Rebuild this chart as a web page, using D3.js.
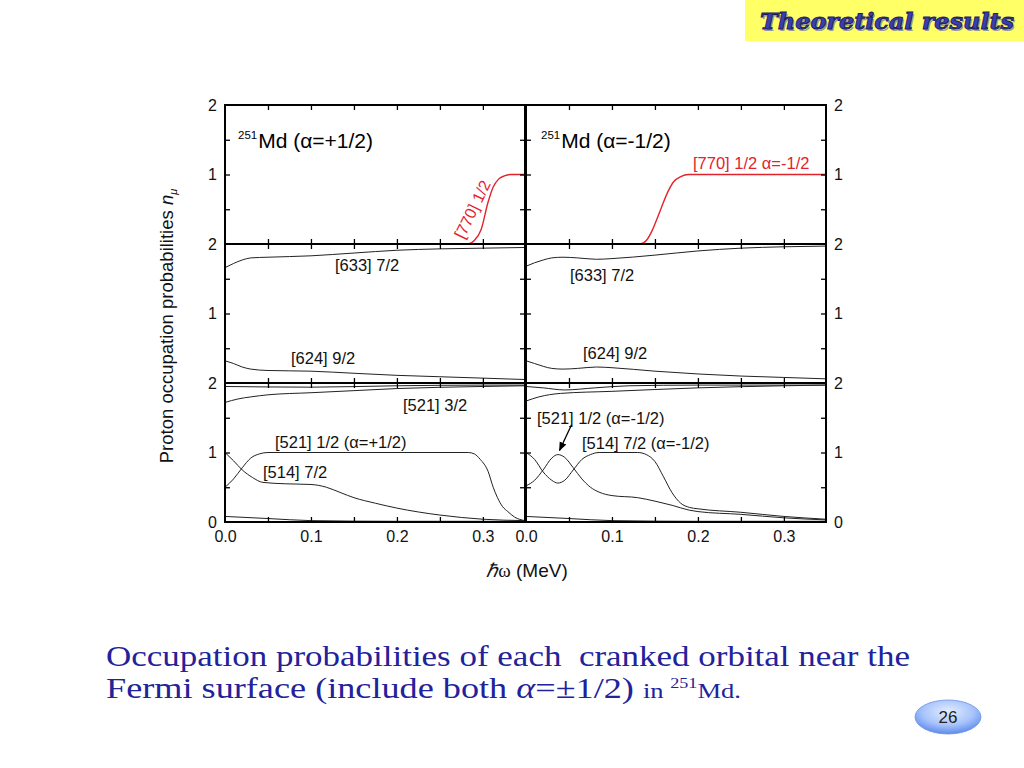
<!DOCTYPE html>
<html><head><meta charset="utf-8">
<script src="https://cdn.jsdelivr.net/npm/d3@7"></script>
<style>body{margin:0;background:#fff;} svg{display:block;}</style>
</head><body><svg id="c" width="1024" height="768"></svg>
<script>
// ---------------- data ----------------
const xTickLabels = [0, 0.1, 0.2, 0.3];
const xMinorTicks = [0.05, 0.1, 0.15, 0.2, 0.25, 0.3];
const yMinorTicks = [0.5, 1, 1.5];
const yLabelsRow = [[1, 2], [1, 2], [0, 1, 2]];
const xDomain = [0, 0.349];

// top row: [770]1/2
const w770p = [0, 0.283, 0.29, 0.298, 0.306, 0.312, 0.318, 0.325, 0.332, 0.349];
const n770p = [0, 0, 0.05, 0.21, 0.6, 0.82, 0.93, 0.98, 1, 1];
const w770m = [0, 0.133, 0.14, 0.147, 0.153, 0.158, 0.165, 0.172, 0.18, 0.189, 0.349];
const n770m = [0, 0, 0.05, 0.2, 0.38, 0.54, 0.75, 0.9, 0.97, 1, 1];

// middle row: [633]7/2 and [624]9/2
const w6L = [0, 0.01, 0.02, 0.03, 0.05, 0.1, 0.15, 0.2, 0.25, 0.3, 0.349];
const n633p = [1.66, 1.72, 1.77, 1.8, 1.81, 1.83, 1.87, 1.91, 1.93, 1.94, 1.95];
const n624p = [0.32, 0.28, 0.23, 0.2, 0.18, 0.17, 0.14, 0.11, 0.09, 0.07, 0.05];
const w6R = [0, 0.01, 0.02, 0.03, 0.043, 0.06, 0.082, 0.1, 0.15, 0.2, 0.25, 0.3, 0.349];
const n633m = [1.68, 1.73, 1.77, 1.8, 1.81, 1.8, 1.78, 1.79, 1.84, 1.9, 1.94, 1.96, 1.97];
const n624m = [0.32, 0.28, 0.24, 0.21, 0.2, 0.21, 0.23, 0.22, 0.17, 0.13, 0.1, 0.08, 0.06];

// bottom row, alpha = +1/2
const wTopA = [0, 0.1, 0.2, 0.3, 0.349];
const n521_32p = [1.95, 1.94, 1.96, 1.97, 1.97];
const wTopB = [0, 0.015, 0.03, 0.05, 0.1, 0.15, 0.2, 0.3, 0.349];
const nTopBp = [1.72, 1.77, 1.8, 1.83, 1.86, 1.89, 1.92, 1.95, 1.96];
const w521p = [0, 0.01, 0.02, 0.03, 0.04, 0.05, 0.283, 0.29, 0.297, 0.306, 0.312, 0.317, 0.323, 0.329, 0.337, 0.349];
const n521p = [0.5, 0.62, 0.78, 0.92, 0.98, 1, 1, 0.98, 0.9, 0.73, 0.5, 0.35, 0.22, 0.15, 0.07, 0.02];
const w514p = [0, 0.01, 0.02, 0.032, 0.044, 0.07, 0.1, 0.118, 0.135, 0.15, 0.175, 0.2, 0.25, 0.3, 0.349];
const n514p = [1, 0.88, 0.75, 0.64, 0.57, 0.55, 0.54, 0.5, 0.42, 0.35, 0.27, 0.2, 0.1, 0.04, 0.02];
const wLow = [0, 0.05, 0.1, 0.2, 0.349];
const nLowp = [0.08, 0.05, 0.02, 0.01, 0.01];

// bottom row, alpha = -1/2
const wTopAm = [0, 0.02, 0.045, 0.08, 0.12, 0.2, 0.349];
const nTopAm = [1.95, 1.93, 1.9, 1.93, 1.96, 1.97, 1.97];
const wTopBm = [0, 0.015, 0.04, 0.1, 0.2, 0.3, 0.349];
const nTopBm = [1.74, 1.8, 1.85, 1.88, 1.93, 1.96, 1.97];
const w521m = [0, 0.01, 0.02, 0.03, 0.037, 0.045, 0.055, 0.065, 0.075, 0.085, 0.1, 0.13, 0.15, 0.17, 0.19, 0.2, 0.25, 0.3, 0.349];
const n521m = [0.52, 0.6, 0.75, 0.92, 0.97, 0.93, 0.78, 0.62, 0.5, 0.43, 0.38, 0.35, 0.3, 0.24, 0.17, 0.15, 0.11, 0.06, 0.03];
const w514m = [0, 0.01, 0.02, 0.03, 0.037, 0.045, 0.055, 0.065, 0.075, 0.085, 0.13, 0.14, 0.15, 0.16, 0.17, 0.18, 0.19, 0.2, 0.25, 0.3, 0.349];
const n514m = [1, 0.9, 0.72, 0.6, 0.56, 0.6, 0.75, 0.9, 0.97, 1, 1, 0.97, 0.87, 0.65, 0.42, 0.27, 0.21, 0.19, 0.14, 0.08, 0.04];
const nLowm = [0.08, 0.05, 0.02, 0.01, 0.01];

// ---------------- layout ----------------
const RED = "#e3232b";
const svg = d3.select("#c");
const colRange = [[225, 525], [526, 826]];
const rowTop = [105, 244, 383];
const rowH = 139;
const xs = colRange.map(r => d3.scaleLinear().domain(xDomain).range(r));
const ys = rowTop.map(t => d3.scaleLinear().domain([0, 2]).range([t + rowH, t]));
const FONT = "'Liberation Sans', Arial, Helvetica, sans-serif";

const curves = [
  {c:0, r:0, w:w770p, n:n770p, color:RED},
  {c:1, r:0, w:w770m, n:n770m, color:RED},
  {c:0, r:1, w:w6L, n:n633p}, {c:0, r:1, w:w6L, n:n624p},
  {c:1, r:1, w:w6R, n:n633m}, {c:1, r:1, w:w6R, n:n624m},
  {c:0, r:2, w:wTopA, n:n521_32p}, {c:0, r:2, w:wTopB, n:nTopBp},
  {c:0, r:2, w:w521p, n:n521p}, {c:0, r:2, w:w514p, n:n514p}, {c:0, r:2, w:wLow, n:nLowp},
  {c:1, r:2, w:wTopAm, n:nTopAm}, {c:1, r:2, w:wTopBm, n:nTopBm},
  {c:1, r:2, w:w521m, n:n521m}, {c:1, r:2, w:w514m, n:n514m}, {c:1, r:2, w:wLow, n:nLowm}
];

// clip paths
const defs = svg.append("defs");
for (let c = 0; c < 2; c++) for (let r = 0; r < 3; r++) {
  defs.append("clipPath").attr("id", `clip${c}${r}`).append("rect")
    .attr("x", colRange[c][0]).attr("y", rowTop[r])
    .attr("width", colRange[c][1] - colRange[c][0]).attr("height", rowH);
}
const mk = defs.append("marker").attr("id", "arr").attr("viewBox", "0 0 10 10")
  .attr("refX", 9).attr("refY", 5).attr("markerWidth", 7).attr("markerHeight", 7).attr("orient", "auto");
mk.append("path").attr("d", "M0,1 L10,5 L0,9 Z").attr("fill", "#000");

// curves
curves.forEach(cv => {
  const pts = cv.w.map((w, i) => [w, cv.n[i]]);
  const line = d3.line().x(d => xs[cv.c](d[0])).y(d => ys[cv.r](d[1])).curve(d3.curveMonotoneX);
  svg.append("path").attr("d", line(pts)).attr("fill", "none")
    .attr("stroke", cv.color || "#222").attr("stroke-width", cv.color ? 1.4 : 1)
    .attr("clip-path", `url(#clip${cv.c}${cv.r})`);
});

// ticks and frames
for (let c = 0; c < 2; c++) for (let r = 0; r < 3; r++) {
  const x = xs[c], y = ys[r];
  const top = rowTop[r], bot = rowTop[r] + rowH, L = colRange[c][0], R = colRange[c][1];
  const tk = g => { g.select(".domain").remove(); g.selectAll("line").attr("stroke", "#000").attr("stroke-width", 1.3); };
  svg.append("g").attr("transform", `translate(0,${top})`).call(d3.axisTop(x).tickValues(xMinorTicks).tickSize(-5).tickFormat("")).call(tk);
  svg.append("g").attr("transform", `translate(0,${bot})`).call(d3.axisBottom(x).tickValues(xMinorTicks).tickSize(-5).tickFormat("")).call(tk);
  svg.append("g").attr("transform", `translate(${L},0)`).call(d3.axisLeft(y).tickValues(yMinorTicks).tickSize(-5).tickFormat("")).call(tk);
  svg.append("g").attr("transform", `translate(${R},0)`).call(d3.axisRight(y).tickValues(yMinorTicks).tickSize(-5).tickFormat("")).call(tk);
  svg.append("rect").attr("x", L).attr("y", top).attr("width", R - L).attr("height", rowH)
    .attr("fill", "none").attr("stroke", "#000").attr("stroke-width", 2);

  // y labels
  const lab = g => { g.select(".domain").remove(); g.selectAll("line").remove();
    g.selectAll("text").attr("font-family", FONT).attr("font-size", 16).attr("fill", "#111"); };
  if (c === 0) svg.append("g").attr("transform", `translate(${L},0)`)
    .call(d3.axisLeft(y).tickValues(yLabelsRow[r]).tickSize(0).tickPadding(8).tickFormat(d3.format("d"))).call(lab);
  else svg.append("g").attr("transform", `translate(${R},0)`)
    .call(d3.axisRight(y).tickValues(yLabelsRow[r]).tickSize(0).tickPadding(8).tickFormat(d3.format("d"))).call(lab);
  if (r === 2) {
    svg.append("g").attr("transform", `translate(0,${bot})`)
      .call(d3.axisBottom(x).tickValues(xTickLabels).tickSize(0).tickPadding(9).tickFormat(d3.format(".1f")))
      .call(g => { g.select(".domain").remove(); g.selectAll("text").attr("font-family", FONT).attr("font-size", 16).attr("fill", "#111"); });
  }
}

// panel titles
function title(xp, yp, s) {
  const t = svg.append("text").attr("x", xp).attr("y", yp).attr("font-family", FONT).attr("fill", "#000");
  t.append("tspan").attr("font-size", 11.5).attr("dy", -9).text("251");
  t.append("tspan").attr("font-size", 21).attr("dy", 9).attr("dx", 1).text(s);
}
title(238, 148, "Md (α=+1/2)");
title(541, 148, "Md (α=-1/2)");

// curve labels
const lbl = (xp, yp, s, col) => svg.append("text").attr("x", xp).attr("y", yp)
  .attr("font-family", FONT).attr("font-size", 16.5).attr("fill", col || "#111").text(s);
svg.append("text").attr("transform", `translate(${xs[0](0.288)},${ys[0](0.5)}) rotate(-64)`)
  .attr("text-anchor", "middle").attr("dominant-baseline", "central")
  .attr("font-family", FONT).attr("font-size", 16).attr("fill", RED).text("[770] 1/2");
lbl(693, 169, "[770] 1/2 α=-1/2", RED);
lbl(335, 271, "[633] 7/2");
lbl(291, 364, "[624] 9/2");
lbl(570, 281, "[633] 7/2");
lbl(583, 359, "[624] 9/2");
lbl(403, 411, "[521] 3/2");
lbl(275, 448, "[521] 1/2 (α=+1/2)");
lbl(263, 478, "[514] 7/2");
lbl(537, 424, "[521] 1/2 (α=-1/2)");
lbl(582, 449, "[514] 7/2 (α=-1/2)");
svg.append("line").attr("x1", xs[1](0.053)).attr("y1", ys[2](1.4)).attr("x2", xs[1](0.039)).attr("y2", ys[2](1.03))
  .attr("stroke", "#000").attr("stroke-width", 1.3).attr("marker-end", "url(#arr)");

// axis titles
const yt = svg.append("text").attr("transform", "translate(173,326) rotate(-90)").attr("text-anchor", "middle")
  .attr("font-family", FONT).attr("font-size", 18.5).attr("fill", "#111");
yt.append("tspan").text("Proton occupation probabilities ");
yt.append("tspan").attr("font-style", "italic").text("n");
yt.append("tspan").attr("font-style", "italic").attr("font-size", 11).attr("dy", 4).text("μ");
const xt = svg.append("text").attr("x", 527).attr("y", 577).attr("text-anchor", "middle")
  .attr("font-family", FONT).attr("font-size", 19).attr("fill", "#111");
xt.append("tspan").attr("font-family", "'Liberation Serif', serif").attr("font-style", "italic").text("ℏ");
xt.append("tspan").attr("font-family", "'Liberation Serif', serif").text("ω");
xt.append("tspan").text(" (MeV)");

// heading
svg.append("rect").attr("x", 745).attr("y", 0).attr("width", 279).attr("height", 41).attr("fill", "#ffff66");
const hdShadow = svg.append("text").attr("x", 761.5).attr("y", 30.5).attr("font-family", "'DejaVu Serif', serif")
  .attr("font-weight", "bold").attr("font-style", "italic").attr("font-size", 22)
  .attr("textLength", 254).attr("lengthAdjust", "spacingAndGlyphs").attr("fill", "#9a9a9a").text("Theoretical results");
const hd = svg.append("text").attr("x", 760).attr("y", 29).attr("font-family", "'DejaVu Serif', serif")
  .attr("font-weight", "bold").attr("font-style", "italic").attr("font-size", 22)
  .attr("textLength", 254).attr("lengthAdjust", "spacingAndGlyphs")
  .attr("fill", "#3b3fae").attr("stroke", "#1b1d5e").attr("stroke-width", 0.9).text("Theoretical results");

// caption
const CAP = "#22229a";
function fitLine(g, targetW) {
  const w = g.node().getBBox().width;
  g.attr("transform", `translate(106,0) scale(${targetW / w},1)`);
}
const g1 = svg.append("g");
g1.append("text").attr("x", 0).attr("y", 666).attr("font-family", "'Liberation Serif', serif").attr("font-size", 30)
  .attr("fill", CAP).attr("xml:space", "preserve").text("Occupation probabilities of each  cranked orbital near the");
fitLine(g1, 804);
const g2 = svg.append("g");
const t2 = g2.append("text").attr("x", 0).attr("y", 698).attr("font-family", "'Liberation Serif', serif").attr("font-size", 30)
  .attr("fill", CAP);
t2.append("tspan").text("Fermi surface (include both ");
t2.append("tspan").attr("font-style", "italic").text("α");
t2.append("tspan").text("=±1/2) ");
t2.append("tspan").attr("font-size", 22).text("in ");
t2.append("tspan").attr("font-size", 15).attr("dy", -10).text("251");
t2.append("tspan").attr("font-size", 22).attr("dy", 10).text("Md.");
fitLine(g2, 635);

// page number
const rg = defs.append("radialGradient").attr("id", "pg").attr("cx", "50%").attr("cy", "35%").attr("r", "70%");
rg.append("stop").attr("offset", "0%").attr("stop-color", "#e4eeff");
rg.append("stop").attr("offset", "55%").attr("stop-color", "#a8c4fb");
rg.append("stop").attr("offset", "100%").attr("stop-color", "#4f7fe8");
svg.append("ellipse").attr("cx", 948).attr("cy", 717).attr("rx", 33).attr("ry", 17)
  .attr("fill", "url(#pg)").attr("stroke", "#6f94e4").attr("stroke-width", 0.8);
svg.append("text").attr("x", 948).attr("y", 723).attr("text-anchor", "middle").attr("font-family", FONT)
  .attr("font-size", 17).attr("fill", "#222").text("26");
</script>
</body></html>
